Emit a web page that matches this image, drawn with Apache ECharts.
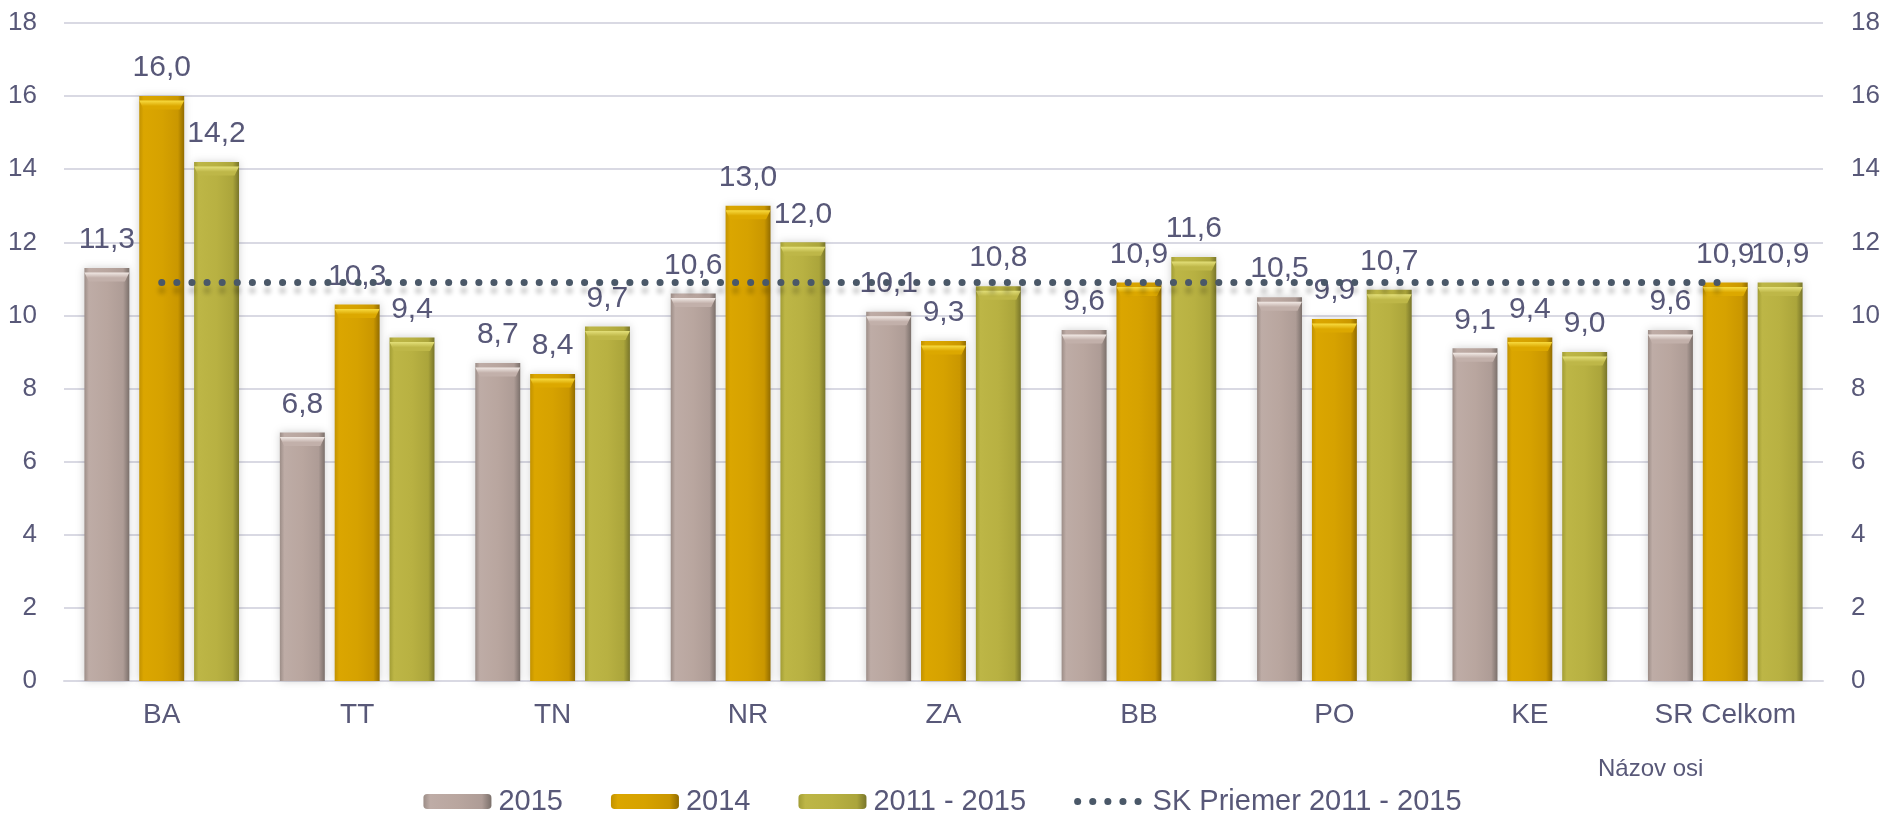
<!DOCTYPE html>
<html>
<head>
<meta charset="utf-8">
<script src="https://cdn.jsdelivr.net/npm/echarts@6/dist/echarts.min.js"></script>
<style>
html,body{margin:0;padding:0;background:#fff;}
#chart{width:1885px;height:813px;}
</style>
</head>
<body>
<div id="chart"></div>
<script>
const categories = ['BA', 'TT', 'TN', 'NR', 'ZA', 'BB', 'PO', 'KE', 'SR Celkom'];
const values2015 = [11.3, 6.8, 8.7, 10.6, 10.1, 9.6, 10.5, 9.1, 9.6];
const values2014 = [16.0, 10.3, 8.4, 13.0, 9.3, 10.9, 9.9, 9.4, 10.9];
const values2011_2015 = [14.2, 9.4, 9.7, 12.0, 10.8, 11.6, 10.7, 9.0, 10.9];
const skAverage = [10.9, 10.9, 10.9, 10.9, 10.9, 10.9, 10.9, 10.9, 10.9];
const yTicks = [0, 2, 4, 6, 8, 10, 12, 14, 16, 18];

const FONT = '"Liberation Sans", Arial, sans-serif';
const TXT = '#585878';

function hgrad(stops) {
  return new echarts.graphic.LinearGradient(0, 0, 1, 0,
    stops.map(c => ({ offset: c[0], color: c[1] })));
}
function vgrad(stops) {
  return new echarts.graphic.LinearGradient(0, 0, 0, 1,
    stops.map(c => ({ offset: c[0], color: c[1] })));
}
const fmt = p => p.value.toFixed(1).replace('.', ',');

const BAR_W = '23%';
const BAR_GAP = '22%';

function barSeries(name, data, stops) {
  return {
    name: name,
    type: 'bar',
    data: data,
    barWidth: BAR_W,
    barGap: BAR_GAP,
    itemStyle: {
      color: hgrad(stops),
      shadowBlur: 8,
      shadowColor: 'rgba(0,0,0,0.18)'
    },
    label: {
      show: true,
      position: 'top',
      distance: 13,
      formatter: fmt,
      fontSize: 30,
      fontFamily: FONT,
      color: TXT
    },
    z: 2
  };
}

function bevelSeries(data, top, base) {
  return {
    type: 'pictorialBar',
    data: data,
    barWidth: BAR_W,
    barGap: BAR_GAP,
    silent: true,
    symbol: 'path://M0,0 L20,0 L18,2 L2,2 Z',
    symbolSize: ['100%', 9],
    symbolPosition: 'end',
    symbolOffset: [0, '50%'],
    itemStyle: { color: vgrad([[0, top], [0.6, base], [1, base]]) },
    z: 3
  };
}

const dotLine = {
  color: '#4A5868',
  width: 7,
  type: [0.1, 15],
  cap: 'round'
};

const chart = echarts.init(document.getElementById('chart'), null, { renderer: 'canvas' });
chart.setOption({
  animation: false,
  backgroundColor: '#ffffff',
  textStyle: { fontFamily: FONT },
  grid: { left: 64, right: 62, top: 23, bottom: 132, containLabel: false },
  legend: {
    top: 782,
    left: 'center',
    itemWidth: 68,
    itemHeight: 15,
    itemGap: 48,
    textStyle: { fontSize: 29, color: TXT, fontFamily: FONT, padding: [0, 0, 0, 2] },
    data: ['2015', '2014', '2011 - 2015', {
      name: 'SK Priemer 2011 - 2015',
      itemStyle: { opacity: 0 },
      lineStyle: dotLine
    }]
  },
  xAxis: {
    type: 'category',
    data: categories,
    axisLine: { show: true, lineStyle: { color: '#D9D9E3', width: 2 } },
    axisTick: { show: false },
    axisLabel: { fontSize: 28, color: TXT, margin: 20, fontFamily: FONT }
  },
  yAxis: [
    {
      type: 'value', min: yTicks[0], max: yTicks[yTicks.length - 1], interval: 2,
      position: 'left',
      axisLine: { show: false }, axisTick: { show: false },
      splitLine: { lineStyle: { color: '#D9D9E3', width: 2 } },
      axisLabel: { fontSize: 26, color: TXT, margin: 27, fontFamily: FONT }
    },
    {
      type: 'value', min: yTicks[0], max: yTicks[yTicks.length - 1], interval: 2,
      position: 'right',
      axisLine: { show: false }, axisTick: { show: false },
      splitLine: { show: false },
      axisLabel: { fontSize: 26, color: TXT, margin: 28, fontFamily: FONT }
    }
  ],
  series: [
    barSeries('2015', values2015, [[0, '#9C8D87'], [0.1, '#BEACA6'], [0.5, '#B9A69F'], [0.86, '#AE9C96'], [1, '#7B706B']]),
    barSeries('2014', values2014, [[0, '#C29200'], [0.1, '#DBA600'], [0.5, '#D6A200'], [0.86, '#CA9700'], [1, '#926C00']]),
    barSeries('2011 - 2015', values2011_2015, [[0, '#A29D35'], [0.1, '#BDB646'], [0.5, '#B8B142'], [0.86, '#ABA53B'], [1, '#78752A']]),
    bevelSeries(values2015, '#F2EAE6', '#C2B0AA'),
    bevelSeries(values2014, '#F8DB40', '#DCA800'),
    bevelSeries(values2011_2015, '#E4E07A', '#BEB748'),
    {
      name: 'SK Priemer 2011 - 2015',
      type: 'line',
      data: skAverage,
      symbol: 'none',
      z: 5,
      itemStyle: { color: '#4A5868' },
      lineStyle: Object.assign({}, dotLine, {
        shadowColor: 'rgba(0,0,0,0.18)',
        shadowBlur: 4,
        shadowOffsetY: 8
      })
    }
  ],
  graphic: [
    {
      type: 'text',
      left: 1598,
      top: 757,
      style: { text: 'Názov osi', fontSize: 24, fill: TXT, fontFamily: FONT }
    }
  ]
});
</script>
</body>
</html>
